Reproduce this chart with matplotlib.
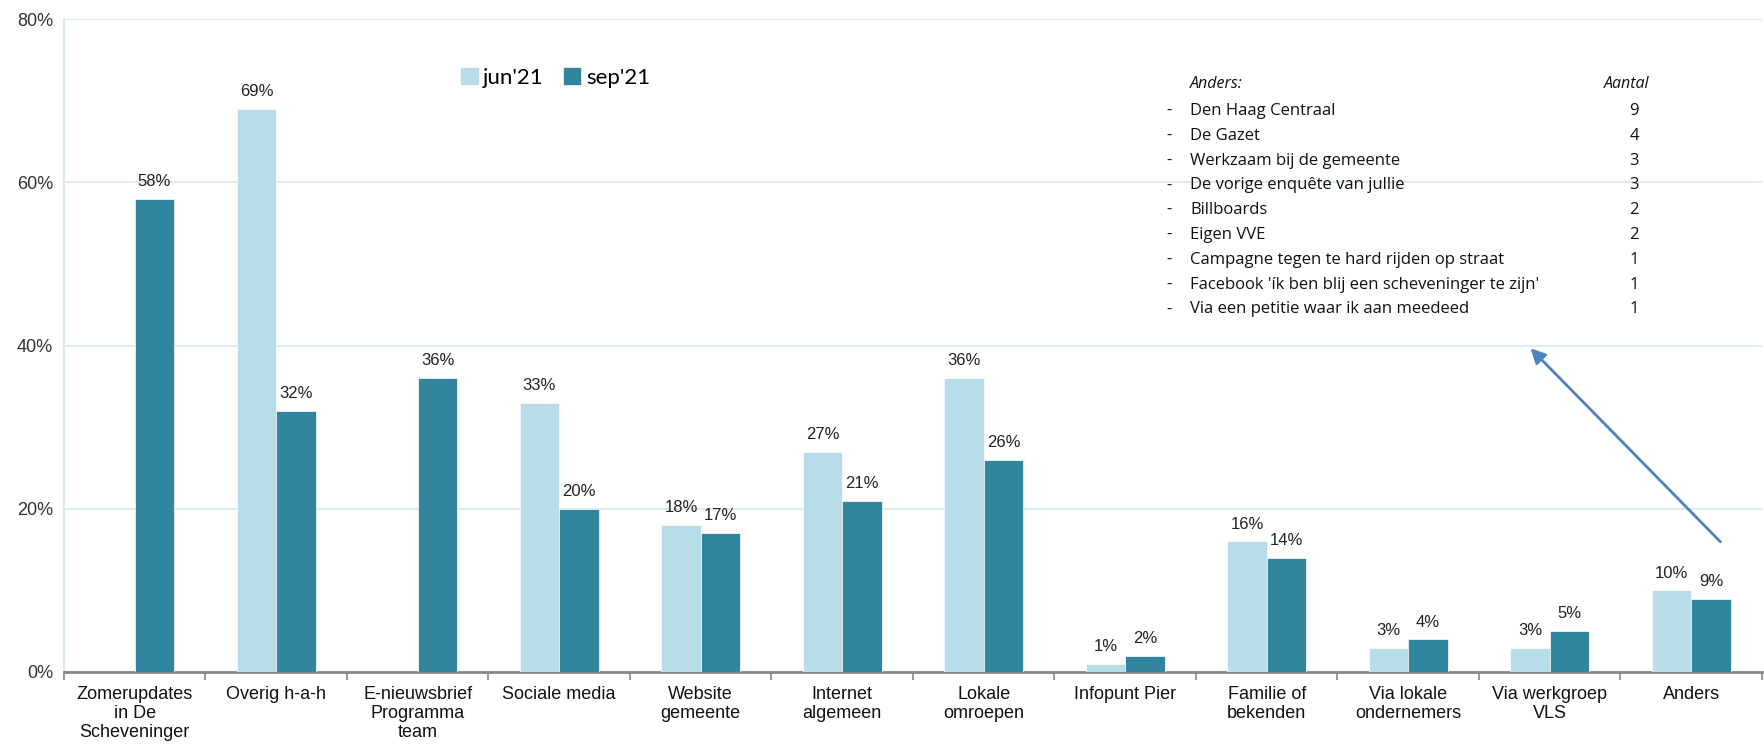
import matplotlib
matplotlib.use("Agg")
import matplotlib.pyplot as plt
import numpy as np
from matplotlib.patches import Patch

categories = ["Zomerupdates\nin De\nScheveninger", "Overig h-a-h", "E-nieuwsbrief\nProgramma\nteam",
              "Sociale media", "Website\ngemeente", "Internet\nalgemeen", "Lokale\nomroepen",
              "Infopunt Pier", "Familie of\nbekenden", "Via lokale\nondernemers", "Via werkgroep\nVLS", "Anders"]
jun21 = [None, 69, None, 33, 18, 27, 36, 1, 16, 3, 3, 10]
sep21 = [58, 32, 36, 20, 17, 21, 26, 2, 14, 4, 5, 9]
yticks = [0, 20, 40, 60, 80]

anders_items = ["Den Haag Centraal", "De Gazet", "Werkzaam bij de gemeente", "De vorige enquête van jullie",
                "Billboards", "Eigen VVE", "Campagne tegen te hard rijden op straat",
                "Facebook 'ík ben blij een scheveninger te zijn'", "Via een petitie waar ik aan meedeed"]
anders_counts = [9, 4, 3, 3, 2, 2, 1, 1, 1]

C_JUN = "#b7dde8"
C_SEP = "#31859c"
NARROW = ["Liberation Sans Narrow", "Liberation Sans", "DejaVu Sans"]
LBL = ["Liberation Sans", "DejaVu Sans"]
CAL = ["Lato", "DejaVu Sans"]
BOX = ["Open Sans", "DejaVu Sans"]

W, H = 1765, 755
fig = plt.figure(figsize=(W / 100, H / 100), dpi=100)
ax = fig.add_axes([64 / W, 1 - 672 / H, (1762 - 64) / W, (672 - 19) / H])

x = np.arange(len(categories))
bw = 0.28
for i in range(len(categories)):
    if jun21[i] is not None:
        ax.bar(x[i] - bw / 2, jun21[i] / 100, bw, color=C_JUN, edgecolor="white", linewidth=0.5, zorder=3)
        ax.text(x[i] - bw / 2, jun21[i] / 100 + 0.012, f"{jun21[i]}%", ha="center", va="bottom",
                fontsize=12, family=LBL, color="#222222", zorder=4)
    if sep21[i] is not None:
        ax.bar(x[i] + bw / 2, sep21[i] / 100, bw, color=C_SEP, edgecolor="white", linewidth=0.5, zorder=3)
        ax.text(x[i] + bw / 2, sep21[i] / 100 + 0.012, f"{sep21[i]}%", ha="center", va="bottom",
                fontsize=12, family=LBL, color="#222222", zorder=4)

ax.set_xlim(-0.5, len(categories) - 0.5)
ax.set_ylim(0, 0.8)
ax.set_yticks([v / 100 for v in yticks])
ax.set_yticklabels([f"{v}%" for v in yticks], family=NARROW, fontsize=13, color="#333333")
ax.tick_params(axis="y", length=0, pad=8)
ax.yaxis.grid(True, color="#dcebf3", linewidth=1.5, zorder=0)
ax.set_axisbelow(True)

ax.set_xticks(x)
ax.set_xticklabels(categories, family=NARROW, fontsize=13, color="#111111", linespacing=1.15)
ax.tick_params(axis="x", which="major", length=0, pad=10)
ax.set_xticks(np.arange(-0.5, len(categories) + 0.5, 1), minor=True)
ax.tick_params(axis="x", which="minor", length=6, color="#888888", width=1.2, direction="out")

for s in ["top", "right"]:
    ax.spines[s].set_visible(False)
ax.spines["left"].set_color("#dcebf3")
ax.spines["left"].set_linewidth(1.5)
ax.spines["bottom"].set_color("#888888")
ax.spines["bottom"].set_linewidth(2)

# legend
handles = [Patch(color=C_JUN, label="jun'21"), Patch(color=C_SEP, label="sep'21")]
fig.legend(handles=handles, loc="center left", bbox_to_anchor=(452 / W, 1 - 78 / H), ncol=2,
           frameon=False, prop={"family": CAL, "size": 16}, handlelength=0.75, handleheight=0.75,
           handletextpad=0.25, columnspacing=0.9, borderaxespad=0)

# Anders text box
fs = 12
fig.text(1190 / W, 1 - 84 / H, "Anders:", style="italic", family=BOX, fontsize=fs - 0.5, va="center", color="#111111")
fig.text(1604 / W, 1 - 84 / H, "Aantal", style="italic", family=BOX, fontsize=fs - 0.5, va="center", color="#111111")
for k, (item, cnt) in enumerate(zip(anders_items, anders_counts)):
    yy = 1 - (111 + k * 24.8) / H
    fig.text(1166 / W, yy, "-", family=BOX, fontsize=fs, va="center", color="#111111")
    fig.text(1190 / W, yy, item, family=BOX, fontsize=fs, va="center", color="#111111")
    fig.text(1634 / W, yy, str(cnt), family=BOX, fontsize=fs, va="center", ha="center", color="#111111")

# arrow from Anders bar to the box
ax.annotate("", xy=(9.85, 0.399), xytext=(11.22, 0.157),
            arrowprops=dict(arrowstyle="-|>", color="#4f81bd", lw=2, mutation_scale=22), zorder=5)

fig.savefig("out.png", dpi=100)
